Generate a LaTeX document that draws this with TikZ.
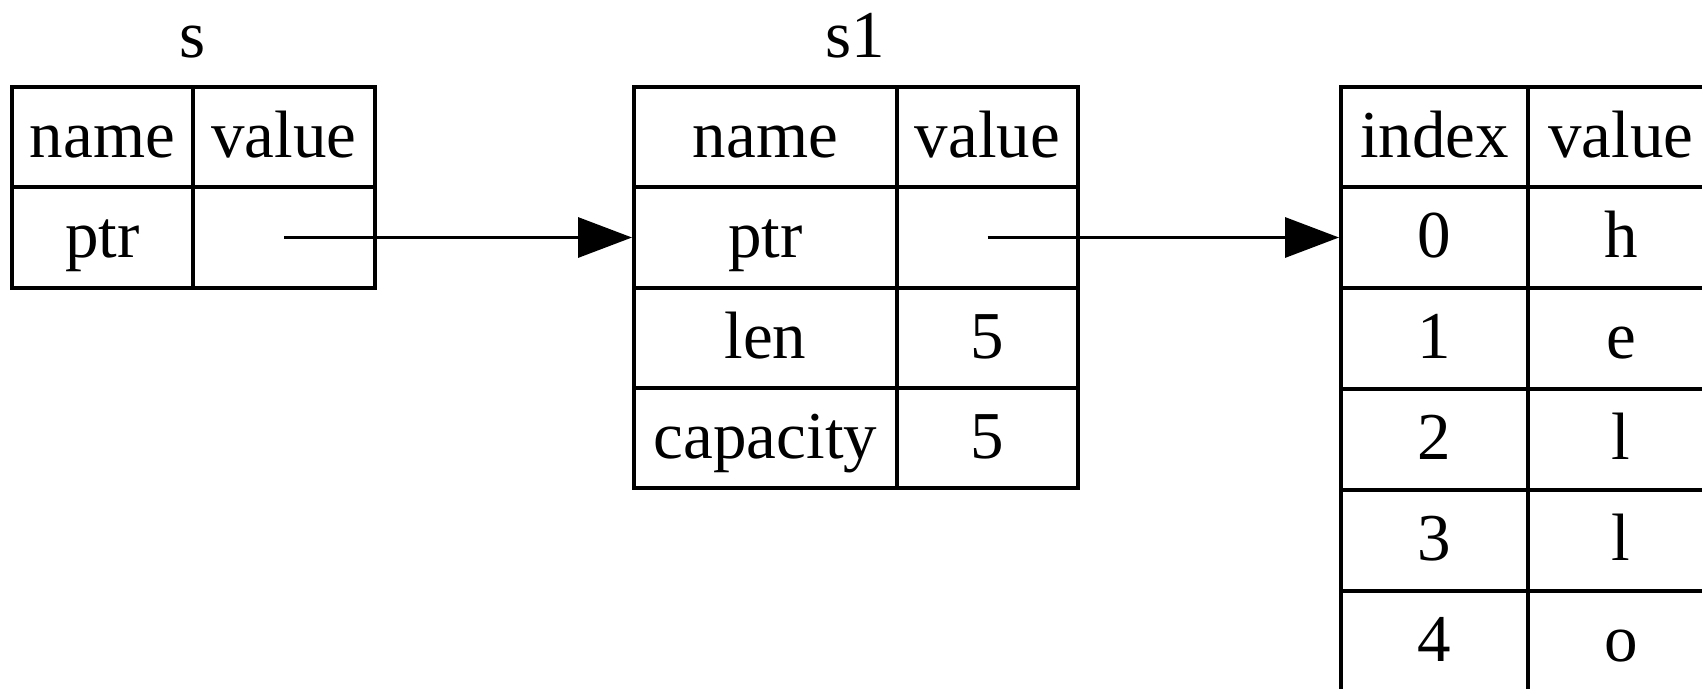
\documentclass[tikz,border=0pt]{standalone}
\usepackage{fontspec}
\setmainfont{Liberation Serif}
\usetikzlibrary{arrows.meta}
\tikzset{
  cell/.style={draw=black, line width=4pt, inner sep=0pt, anchor=center,
    font=\fontsize{67}{80}\selectfont, text height=48pt, text depth=8pt},
  title/.style={inner sep=0pt, anchor=base, font=\fontsize{67}{80}\selectfont},
  ptrarrow/.style={line width=3.3pt, -{Triangle[length=54pt,width=40pt]}},
}
\begin{document}
\begin{tikzpicture}[x=1pt,y=-1pt]
\useasboundingbox (0,0) rectangle (1702,688);
\clip (0,0) rectangle (1702,688);
% table s
\node[title] (s-title) at (193,57) {s};
\node[cell, minimum width=181pt, minimum height=100pt] (s-hn) at (102.5,137) {name};
\node[cell, minimum width=182pt, minimum height=100pt] (s-hv) at (284,137) {value};
\node[cell, minimum width=181pt, minimum height=101pt] (s-ptr) at (102.5,237.5) {ptr};
\node[cell, minimum width=182pt, minimum height=101pt] (s-ptrv) at (284,237.5) {};
% table s1
\node[title] (s1-title) at (855,57) {s1};
\node[cell, minimum width=263pt, minimum height=100pt] (s1-hn) at (765.5,137) {name};
\node[cell, minimum width=181pt, minimum height=100pt] (s1-hv) at (987.5,137) {value};
\node[cell, minimum width=263pt, minimum height=101pt] (s1-ptr) at (765.5,237.5) {ptr};
\node[cell, minimum width=181pt, minimum height=101pt] (s1-ptrv) at (987.5,237.5) {};
\node[cell, minimum width=263pt, minimum height=100pt] (s1-len) at (765.5,338) {len};
\node[cell, minimum width=181pt, minimum height=100pt] (s1-lenv) at (987.5,338) {5};
\node[cell, minimum width=263pt, minimum height=100pt] (s1-cap) at (765.5,438) {capacity};
\node[cell, minimum width=181pt, minimum height=100pt] (s1-capv) at (987.5,438) {5};
% heap table
\node[cell, minimum width=187pt, minimum height=100pt] (h-hi) at (1434.5,137) {index};
\node[cell, minimum width=186pt, minimum height=100pt] (h-hv) at (1621,137) {value};
\node[cell, minimum width=187pt, minimum height=101pt] (h-i0) at (1434.5,237.5) {0};
\node[cell, minimum width=186pt, minimum height=101pt] (h-v0) at (1621,237.5) {h};
\node[cell, minimum width=187pt, minimum height=101pt] (h-i1) at (1434.5,338.5) {1};
\node[cell, minimum width=186pt, minimum height=101pt] (h-v1) at (1621,338.5) {e};
\node[cell, minimum width=187pt, minimum height=101pt] (h-i2) at (1434.5,439.5) {2};
\node[cell, minimum width=186pt, minimum height=101pt] (h-v2) at (1621,439.5) {l};
\node[cell, minimum width=187pt, minimum height=101pt] (h-i3) at (1434.5,540.5) {3};
\node[cell, minimum width=186pt, minimum height=101pt] (h-v3) at (1621,540.5) {l};
\node[cell, minimum width=187pt, minimum height=101pt] (h-i4) at (1434.5,641.5) {4};
\node[cell, minimum width=186pt, minimum height=101pt] (h-v4) at (1621,641.5) {o};
% pointers
\draw[ptrarrow] (s-ptrv.center) -- (s1-ptr.west);
\draw[ptrarrow] (s1-ptrv.center) -- (h-i0.west);
\end{tikzpicture}
\end{document}
